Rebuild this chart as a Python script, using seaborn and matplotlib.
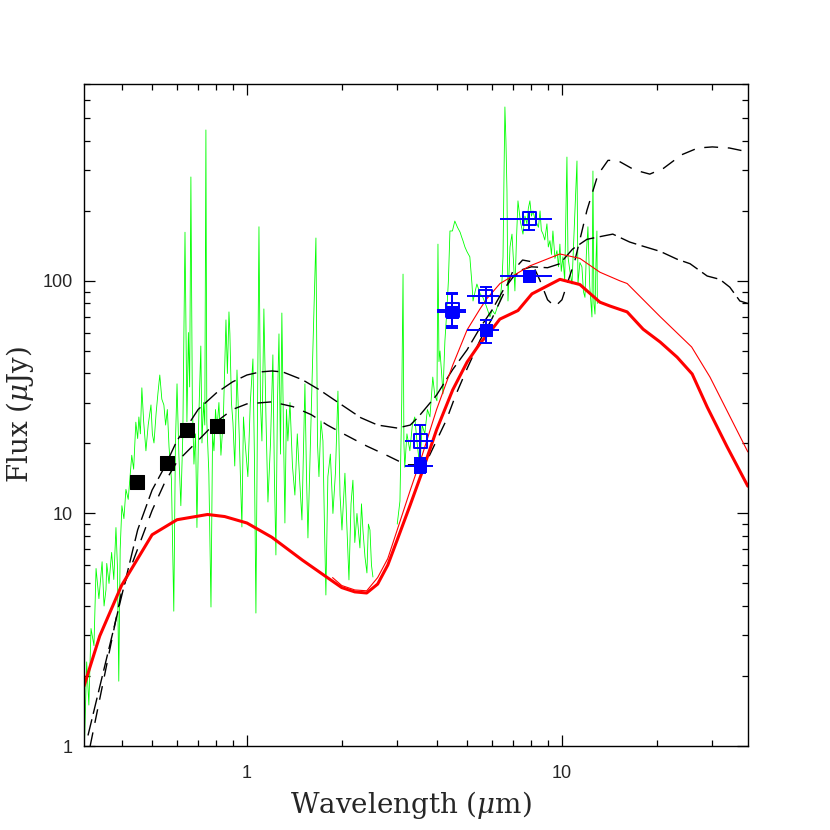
import numpy as np
import pandas as pd
import matplotlib
matplotlib.use('Agg')
import matplotlib.pyplot as plt
import matplotlib.ticker as mticker
import seaborn as sns

# --- photometry ---
opt_wave = [0.448, 0.557, 0.645, 0.803]
opt_flux = [13.7, 16.5, 22.9, 23.8]

irac_wave = [3.55, 4.49, 5.73, 7.87]
irac_lo = [3.18, 4.00, 4.99, 6.35]
irac_hi = [3.90, 4.96, 6.30, 9.30]
irac_filled = [16.0, 73.6, 61.5, 105.0]
irac_filled_lo = [14.9, 63.0, 54.0, 100.0]
irac_filled_hi = [17.3, 89.0, 68.0, 110.0]
irac_open = [20.5, 75.0, 86.0, 185.0]
irac_open_lo = [17.0, 64.0, 80.0, 166.0]
irac_open_hi = [24.0, 88.0, 94.0, 198.0]

# --- green spectrum, optical/near-IR part ---
spec1_wave = [0.305, 0.310, 0.315, 0.320, 0.327, 0.332, 0.339, 0.347, 0.352, 0.357,
              0.359, 0.365, 0.372, 0.378, 0.384, 0.388, 0.392, 0.396, 0.401, 0.407,
              0.413, 0.420, 0.431, 0.437, 0.444, 0.450, 0.454, 0.459, 0.464, 0.470,
              0.478, 0.486, 0.496, 0.501, 0.507, 0.515, 0.522, 0.529, 0.537, 0.545,
              0.552, 0.559, 0.566, 0.576, 0.586, 0.593, 0.600, 0.608, 0.617, 0.626,
              0.636, 0.645, 0.652, 0.658, 0.664, 0.671, 0.679, 0.687, 0.694, 0.703,
              0.714, 0.720, 0.728, 0.735, 0.741, 0.746, 0.757, 0.769, 0.778, 0.786,
              0.795, 0.803, 0.815, 0.827, 0.842, 0.858, 0.867, 0.877, 0.883, 0.893,
              0.903, 0.915, 0.930, 0.945, 0.964, 0.975, 0.986, 1.007, 1.025, 1.045,
              1.056, 1.068, 1.080, 1.092, 1.104, 1.116, 1.132, 1.150, 1.166, 1.188,
              1.209, 1.222, 1.236, 1.250, 1.264, 1.278, 1.291, 1.305, 1.320, 1.335,
              1.349, 1.370, 1.395, 1.420, 1.445, 1.470, 1.495, 1.528, 1.545, 1.562,
              1.590, 1.620, 1.656, 1.675, 1.693, 1.718, 1.743, 1.762, 1.781, 1.807,
              1.840, 1.875, 1.910, 1.945, 1.975, 2.003, 2.047, 2.075, 2.108, 2.140,
              2.170, 2.200, 2.235, 2.284, 2.310, 2.335, 2.370, 2.404, 2.430, 2.458,
              2.485, 2.512]
spec1_flux = [1.0, 2.3, 1.5, 3.2, 2.7, 5.8, 4.3, 6.2, 4.0, 4.7,
              6.1, 5.0, 6.8, 5.2, 8.7, 6.0, 1.9, 7.0, 10.8, 9.5,
              12.7, 11.5, 17.8, 15.5, 24.7, 21.0, 26.0, 22.0, 34.7, 25.0,
              18.6, 24.0, 29.3, 22.0, 20.1, 27.0, 33.0, 39.4, 31.0, 29.3,
              24.0, 28.0, 19.3, 14.0, 3.8, 20.0, 36.1, 18.0, 10.8, 22.0,
              162.0, 24.8, 60.0, 35.0, 280.0, 30.0, 16.3, 22.0, 8.7, 25.0,
              52.5, 20.1, 30.0, 24.0, 446.0, 24.8, 15.0, 3.96, 22.0, 18.6,
              28.0, 22.9, 30.0, 17.8, 26.0, 68.0, 40.0, 73.6, 59.2, 30.0,
              24.5, 16.0, 41.4, 22.0, 8.75, 26.0, 20.5, 14.4, 30.0, 46.2,
              18.0, 3.73, 25.0, 171.0, 30.0, 20.5, 75.8, 25.0, 11.2, 20.0,
              48.1, 15.0, 6.63, 30.0, 59.2, 18.0, 72.8, 25.0, 9.1, 28.0,
              20.5, 30.0, 16.0, 12.0, 22.0, 14.0, 9.38, 36.1, 15.0, 7.85,
              20.0, 51.5, 153.0, 20.0, 14.4, 25.0, 20.5, 9.0, 4.46, 14.4,
              18.0, 10.0, 15.0, 33.6, 12.0, 8.49, 14.9, 9.0, 5.18, 11.0,
              13.9, 7.5, 10.0, 7.11, 11.0, 8.49, 6.5, 5.55, 9.0, 8.49,
              6.0, 5.33]

# --- green spectrum, mid-IR part ---
spec2_wave = [3.00, 3.06, 3.10, 3.13, 3.15, 3.17, 3.22, 3.29, 3.35, 3.41,
              3.47, 3.54, 3.60, 3.67, 3.74, 3.81, 3.89, 3.95, 4.01, 4.04,
              4.07, 4.10, 4.15, 4.19, 4.25, 4.31, 4.36, 4.41, 4.49, 4.57,
              4.66, 4.75, 4.80, 4.85, 4.92, 4.99, 5.05, 5.10, 5.18, 5.22,
              5.30, 5.37, 5.50, 5.61, 5.75, 5.91, 6.00, 6.13, 6.25, 6.36,
              6.45, 6.50, 6.55, 6.59, 6.64, 6.69, 6.72, 6.74, 6.84, 6.94,
              7.02, 7.09, 7.17, 7.25, 7.38, 7.52, 7.63, 7.74, 7.82, 7.91,
              8.00, 8.09, 8.20, 8.33, 8.42, 8.52, 8.60, 8.71, 8.82, 8.96,
              9.05, 9.16, 9.26, 9.36, 9.50, 9.64, 9.75, 9.85, 9.95, 10.07,
              10.20, 10.37, 10.45, 10.60, 10.76, 10.90, 11.16, 11.24, 11.40, 11.57,
              11.70, 11.83, 11.95, 12.09, 12.25, 12.45, 12.54, 12.63, 12.73, 12.82,
              12.91, 12.95]
spec2_flux = [9.0, 11.3, 30.0, 107.0, 20.0, 15.8, 22.0, 18.6, 24.0, 26.0,
              20.0, 15.8, 24.0, 22.0, 28.0, 26.0, 38.6, 32.0, 30.5, 144.0,
              45.0, 50.0, 40.0, 32.7, 55.0, 74.3, 100.0, 164.0, 164.0, 181.0,
              170.0, 162.0, 155.0, 149.0, 140.0, 134.0, 130.0, 127.0, 97.0, 82.0,
              90.0, 97.0, 88.0, 85.0, 78.0, 70.0, 75.0, 72.0, 78.0, 82.0,
              100.0, 127.0, 300.0, 560.0, 400.0, 244.0, 120.0, 82.0, 140.0, 159.0,
              120.0, 90.6, 150.0, 221.0, 180.0, 159.0, 190.0, 176.0, 205.0, 221.0,
              190.0, 200.0, 185.0, 176.0, 170.0, 200.0, 165.0, 159.0, 150.0, 176.0,
              140.0, 149.0, 130.0, 164.0, 125.0, 135.0, 115.0, 144.0, 110.0, 127.0,
              100.0, 341.0, 127.0, 110.0, 97.0, 150.0, 328.0, 97.0, 120.0, 115.0,
              90.0, 85.0, 130.0, 171.0, 95.0, 70.0, 297.0, 80.0, 72.0, 120.0,
              164.0, 80.0]

# --- models ---
thick_wave = [0.304, 0.341, 0.40, 0.50, 0.60, 0.75, 0.85, 1.0, 1.2, 1.5,
              1.8, 2.0, 2.2, 2.4, 2.6, 2.8, 3.0, 3.3, 3.6, 4.0,
              4.5, 5.0, 5.5, 6.0, 6.35, 7.25, 8.03, 9.85, 11.4, 13.2,
              14.2, 16.1, 18.1, 20.5, 23.2, 25.9, 28.9, 33.4, 38.9]
thick_flux = [1.81, 2.97, 4.9, 8.1, 9.4, 9.9, 9.7, 9.1, 7.9, 6.3,
              5.3, 4.8, 4.6, 4.55, 4.97, 6.0, 7.7, 10.9, 15.1, 22.9,
              34.0, 44.8, 54.0, 62.0, 68.5, 74.6, 88.0, 101.6, 96.5, 81.0,
              78.0, 73.6, 62.0, 54.6, 47.0, 39.8, 28.7, 19.4, 13.1]
thin_wave = [1.87, 2.0, 2.2, 2.4, 2.6, 2.8, 3.0, 3.3, 3.6, 4.0,
             4.5, 5.0, 5.5, 5.78, 6.36, 7.9, 9.85, 11.4, 13.2, 15.3,
             16.1, 20.5, 25.8, 29.5, 38.9]
thin_flux = [5.3, 4.9, 4.69, 4.65, 5.3, 6.4, 8.5, 12.6, 17.8, 28.0,
             43.4, 61.6, 76.0, 84.0, 97.5, 116.0, 130.6, 125.0, 109.0, 100.0,
             97.5, 70.2, 52.0, 38.6, 18.4]

dashA_wave = [0.313, 0.40, 0.45, 0.50, 0.55, 0.60, 0.65, 0.70, 0.80, 0.90,
              1.0, 1.1, 1.2, 1.3, 1.5, 1.7, 2.0, 2.3, 2.6, 3.0,
              3.3, 3.5, 4.0, 4.5, 5.0, 5.5, 6.0, 6.5, 7.0, 7.5,
              8.0, 9.0, 9.85, 10.8, 12.0, 13.5, 14.5, 16.4, 18.1, 20.5,
              23.2, 25.5, 28.9, 31.7, 34.1, 36.7, 38.9]
dashA_flux = [1.11, 4.4, 8.5, 12.6, 16.0, 20.6, 24.0, 28.0, 33.0, 36.8,
              39.4, 40.6, 41.0, 40.6, 37.6, 34.0, 29.3, 25.8, 24.0, 23.3,
              24.0, 26.0, 32.3, 41.6, 50.6, 63.0, 75.0, 91.0, 104.0, 112.0,
              115.0, 114.0, 118.6, 137.0, 151.0, 156.0, 159.0, 147.0, 141.0, 134.0,
              124.0, 118.6, 105.0, 101.6, 94.0, 82.0, 80.0]
dashB_wave = [0.318, 0.40, 0.50, 0.55, 0.60, 0.70, 0.80, 0.90, 1.0, 1.2,
              1.4, 1.6, 1.8, 2.0, 2.4, 2.8, 3.2, 3.5, 3.8, 4.0,
              4.3, 4.6, 5.0, 5.5, 6.0, 6.5, 7.0, 7.5, 8.0, 8.5,
              9.0, 9.5, 10.0, 11.0, 12.0, 13.0, 14.0, 15.0, 17.0, 19.0,
              21.0, 24.0, 27.0, 30.0, 34.0, 38.9]
dashB_flux = [1.0, 4.6, 10.3, 13.7, 16.7, 20.6, 24.8, 28.0, 29.6, 30.2,
              28.8, 26.6, 24.0, 22.2, 19.5, 17.7, 16.2, 16.2, 17.8, 20.6,
              25.3, 32.3, 42.0, 55.7, 69.0, 87.0, 111.0, 123.0, 121.0, 101.0,
              83.0, 77.5, 83.0, 123.0, 201.0, 286.0, 330.0, 330.0, 300.0, 288.0,
              305.0, 349.0, 373.0, 377.0, 373.0, 359.0]

sns.set_style('ticks')
plt.rcParams['font.family'] = ['Liberation Sans', 'DejaVu Sans']
plt.rcParams['mathtext.fontset'] = 'dejavuserif'

fig = plt.figure(figsize=(8.3, 8.3), dpi=100)
ax = fig.add_axes([0.1012, 0.1012, 0.7998, 0.7976])

green = '#00ff00'
red = '#ff0000'
blue = '#0000ff'

sns.lineplot(x=spec1_wave, y=spec1_flux, ax=ax, color=green, lw=0.6,
             sort=False, estimator=None)
sns.lineplot(x=spec2_wave, y=spec2_flux, ax=ax, color=green, lw=0.6,
             sort=False, estimator=None)
sns.lineplot(x=dashA_wave, y=dashA_flux, ax=ax, color='black', lw=1.0,
             sort=False, estimator=None, linestyle=(0, (12, 4)))
sns.lineplot(x=dashB_wave, y=dashB_flux, ax=ax, color='black', lw=1.0,
             sort=False, estimator=None, linestyle=(0, (10, 7)))
sns.lineplot(x=thick_wave, y=thick_flux, ax=ax, color=red, lw=2.2,
             sort=False, estimator=None)
sns.lineplot(x=thin_wave, y=thin_flux, ax=ax, color=red, lw=0.8,
             sort=False, estimator=None)

# black optical points
sns.scatterplot(x=opt_wave, y=opt_flux, ax=ax, marker='s', s=90,
                color='black', edgecolor='black', zorder=5)

# IRAC error bars
w = np.array(irac_wave)
xerr = [w - np.array(irac_lo), np.array(irac_hi) - w]
for f, lo, hi in [(irac_open, irac_open_lo, irac_open_hi),
                  (irac_filled, irac_filled_lo, irac_filled_hi)]:
    f = np.array(f)
    ax.errorbar(w, f, xerr=xerr, fmt='none', ecolor=blue, elinewidth=1.4,
                capsize=0, zorder=6)
    ax.errorbar(w, f, yerr=[f - np.array(lo), np.array(hi) - f], fmt='none',
                ecolor=blue, elinewidth=1.4, capsize=4, capthick=1.4, zorder=6)

sns.scatterplot(x=irac_wave, y=irac_filled, ax=ax, marker='s', s=80,
                color=blue, edgecolor=blue, zorder=7)
sns.scatterplot(x=irac_wave, y=irac_open, ax=ax, marker='s', s=90,
                facecolor='none', edgecolor=blue, linewidth=1.4, zorder=7)

ax.set_xscale('log')
ax.set_yscale('log')
ax.set_xlim(0.304, 38.9)
ax.set_ylim(1, 703)

ax.set_xticks([1, 10], ['1', '10'])
ax.set_yticks([1, 10, 100], ['1', '10', '100'])
ax.xaxis.set_minor_formatter(mticker.NullFormatter())
ax.yaxis.set_minor_formatter(mticker.NullFormatter())
ax.tick_params(which='both', direction='in', top=True, right=True,
               color='black', width=0.9)
ax.tick_params(which='major', length=8, labelsize=13)
ax.tick_params(which='minor', length=4)
ax.tick_params(axis='x', which='major', pad=14)
ax.tick_params(axis='y', which='major', pad=8)
for s in ax.spines.values():
    s.set_linewidth(1.0)
    s.set_color('black')

ax.set_xlabel(r'Wavelength ($\mu$m)', fontsize=20, family='DejaVu Serif', va='center')
ax.set_ylabel(r'Flux ($\mu$Jy)', fontsize=20, family='DejaVu Serif', va='center')
ax.xaxis.set_label_coords(0.493, -0.089)
ax.yaxis.set_label_coords(-0.096, 0.5)

fig.savefig('out.png', dpi=100)
